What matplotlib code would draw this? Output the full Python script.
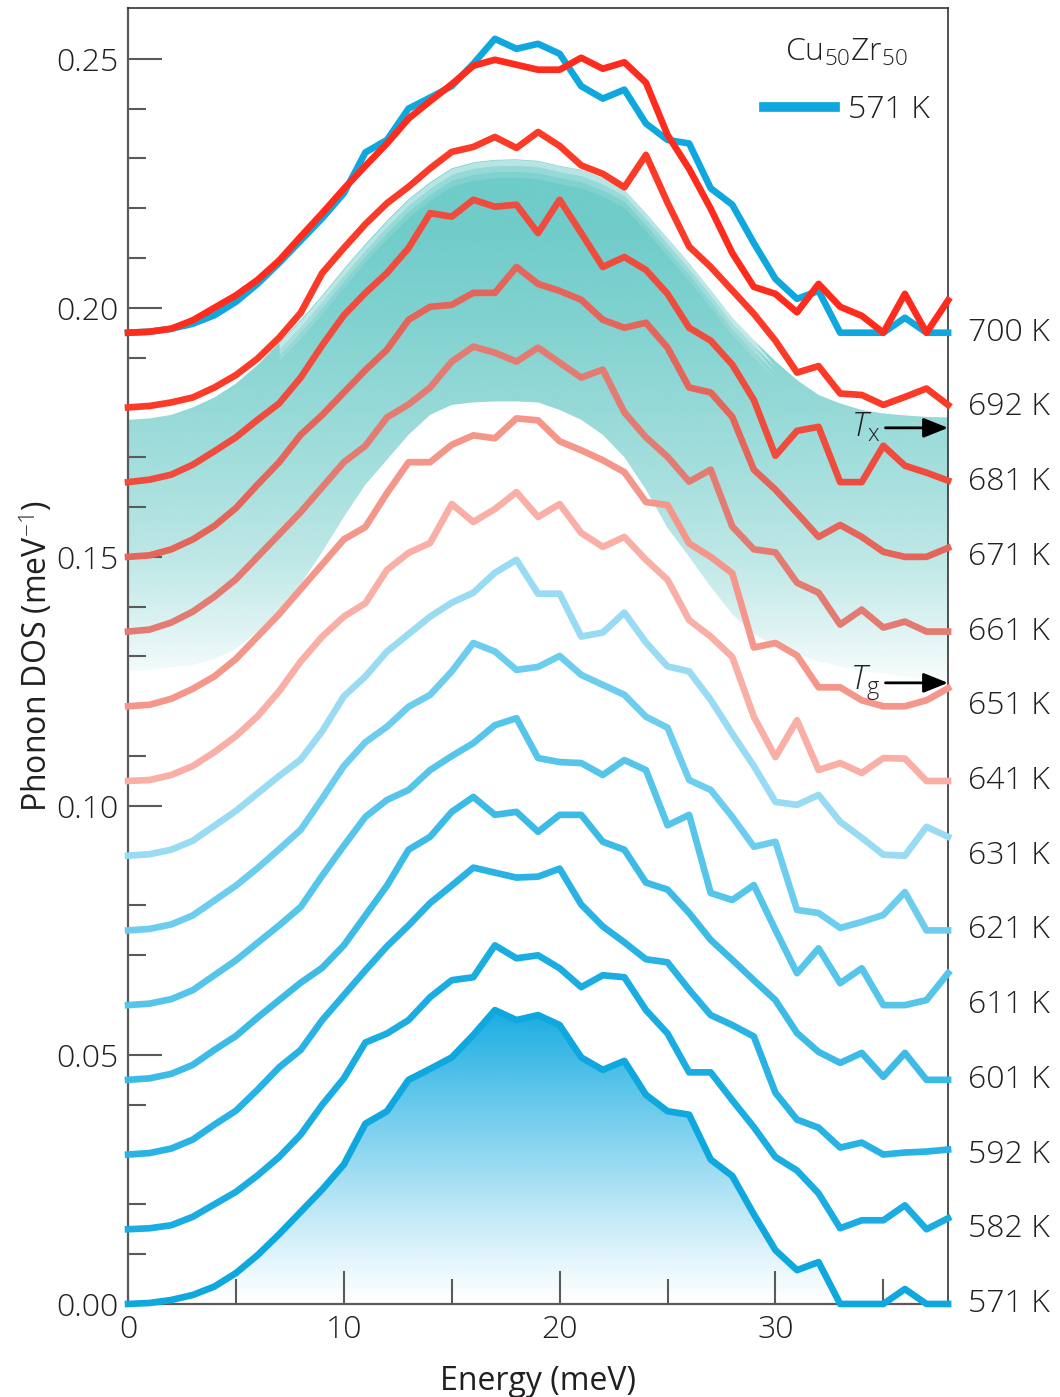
import numpy as np
import matplotlib.pyplot as plt
from matplotlib.lines import Line2D
from matplotlib.colors import to_rgb
import matplotlib.transforms as mtransforms

plt.rcParams['font.family'] = ['Open Sans', 'DejaVu Sans']
plt.rcParams['font.weight'] = 'light'
plt.rcParams['mathtext.fontset'] = 'custom'
plt.rcParams['mathtext.rm'] = 'Open Sans'
plt.rcParams['mathtext.it'] = 'Open Sans:italic'

# energy grid (meV)
energy = list(range(0, 39))

# phonon DOS, one list per temperature (meV^-1)
dos_571 = [0.0, 0.0002, 0.0008, 0.0018, 0.0035, 0.0062, 0.0098, 0.0140, 0.0185, 0.0230, 0.0280, 0.0362, 0.0387, 0.0450, 0.0472, 0.0495, 0.0540, 0.0590, 0.0570, 0.0580, 0.0560, 0.0495, 0.0470, 0.0488, 0.0420, 0.0387, 0.0380, 0.0290, 0.0257, 0.0180, 0.0108, 0.0068, 0.0084, 0.0, 0.0, 0.0, 0.0030, 0.0, 0.0]
dos_582 = [0.0, 0.0002, 0.0008, 0.0025, 0.0050, 0.0075, 0.0108, 0.0145, 0.0190, 0.0250, 0.0303, 0.0375, 0.0393, 0.0420, 0.0466, 0.0500, 0.0506, 0.0570, 0.0544, 0.0550, 0.0524, 0.0486, 0.0510, 0.0506, 0.0440, 0.0393, 0.0315, 0.0315, 0.0259, 0.0205, 0.0145, 0.0118, 0.0072, 0.0002, 0.0018, 0.0018, 0.0048, 0.0, 0.0022]
dos_592 = [0.0, 0.0003, 0.0012, 0.0030, 0.0060, 0.0088, 0.0130, 0.0175, 0.0210, 0.0270, 0.0320, 0.0370, 0.0418, 0.0460, 0.0505, 0.0540, 0.0576, 0.0566, 0.0556, 0.0558, 0.0574, 0.0502, 0.0458, 0.0426, 0.0392, 0.0386, 0.0331, 0.0280, 0.0260, 0.0237, 0.0124, 0.0070, 0.0054, 0.0014, 0.0024, 0.0, 0.0004, 0.0006, 0.0010]
dos_601 = [0.0, 0.0003, 0.0012, 0.0030, 0.0060, 0.0088, 0.0125, 0.0160, 0.0195, 0.0225, 0.0270, 0.0330, 0.0390, 0.0462, 0.0488, 0.0538, 0.0568, 0.0532, 0.0538, 0.0498, 0.0532, 0.0532, 0.0478, 0.0462, 0.0396, 0.0382, 0.0335, 0.0281, 0.0241, 0.0200, 0.0160, 0.0094, 0.0056, 0.0034, 0.0054, 0.0006, 0.0054, 0.0, 0.0]
dos_611 = [0.0, 0.0003, 0.0012, 0.0030, 0.0060, 0.0090, 0.0125, 0.0160, 0.0197, 0.0260, 0.0320, 0.0378, 0.0412, 0.0432, 0.0472, 0.0500, 0.0526, 0.0562, 0.0576, 0.0496, 0.0488, 0.0486, 0.0462, 0.0492, 0.0472, 0.0361, 0.0382, 0.0225, 0.0211, 0.0241, 0.0151, 0.0064, 0.0114, 0.0044, 0.0074, 0.0, 0.0, 0.0010, 0.0064]
dos_621 = [0.0, 0.0003, 0.0012, 0.0030, 0.0060, 0.0090, 0.0125, 0.0163, 0.0202, 0.0265, 0.0330, 0.0378, 0.0409, 0.0449, 0.0473, 0.0520, 0.0577, 0.0560, 0.0523, 0.0529, 0.0551, 0.0513, 0.0493, 0.0473, 0.0429, 0.0407, 0.0302, 0.0282, 0.0228, 0.0168, 0.0178, 0.0041, 0.0035, 0.0005, 0.0017, 0.0031, 0.0077, 0.0, 0.0]
dos_631 = [0.0, 0.0003, 0.0012, 0.0030, 0.0060, 0.0090, 0.0125, 0.0160, 0.0193, 0.0250, 0.0320, 0.0360, 0.0410, 0.0445, 0.0480, 0.0508, 0.0528, 0.0568, 0.0594, 0.0526, 0.0526, 0.0440, 0.0448, 0.0488, 0.0428, 0.0380, 0.0370, 0.0313, 0.0245, 0.0180, 0.0108, 0.0102, 0.0122, 0.0068, 0.0036, 0.0002, 0.0, 0.0058, 0.0038]
dos_641 = [0.0, 0.0002, 0.0012, 0.0030, 0.0058, 0.0090, 0.0130, 0.0180, 0.0240, 0.0290, 0.0330, 0.0357, 0.0424, 0.0458, 0.0478, 0.0556, 0.0520, 0.0546, 0.0580, 0.0530, 0.0556, 0.0498, 0.0470, 0.0490, 0.0444, 0.0404, 0.0323, 0.0290, 0.0249, 0.0129, 0.0048, 0.0122, 0.0022, 0.0036, 0.0016, 0.0046, 0.0045, 0.0, 0.0]
dos_651 = [0.0, 0.0003, 0.0015, 0.0035, 0.0060, 0.0095, 0.0140, 0.0185, 0.0235, 0.0285, 0.0335, 0.0360, 0.0428, 0.0490, 0.0490, 0.0525, 0.0544, 0.0538, 0.0578, 0.0574, 0.0532, 0.0514, 0.0494, 0.0470, 0.0410, 0.0404, 0.0327, 0.0300, 0.0267, 0.0118, 0.0127, 0.0102, 0.0038, 0.0038, 0.0012, 0.0, 0.0, 0.0012, 0.0036]
dos_661 = [0.0, 0.0004, 0.0018, 0.0040, 0.0070, 0.0105, 0.0150, 0.0195, 0.0240, 0.0290, 0.0340, 0.0373, 0.0430, 0.0456, 0.0490, 0.0542, 0.0572, 0.0560, 0.0542, 0.0570, 0.0540, 0.0510, 0.0526, 0.0440, 0.0390, 0.0351, 0.0301, 0.0325, 0.0211, 0.0165, 0.0159, 0.0098, 0.0078, 0.0014, 0.0044, 0.0008, 0.0020, 0.0, 0.0]
dos_671 = [0.0, 0.0003, 0.0015, 0.0035, 0.0062, 0.0098, 0.0145, 0.0190, 0.0245, 0.0285, 0.0330, 0.0375, 0.0416, 0.0476, 0.0502, 0.0506, 0.0530, 0.0530, 0.0582, 0.0548, 0.0534, 0.0516, 0.0476, 0.0460, 0.0470, 0.0420, 0.0340, 0.0330, 0.0281, 0.0175, 0.0135, 0.0088, 0.0040, 0.0064, 0.0040, 0.0010, 0.0, 0.0, 0.0018]
dos_681 = [0.0, 0.0005, 0.0015, 0.0035, 0.0062, 0.0090, 0.0125, 0.0158, 0.0210, 0.0275, 0.0335, 0.0380, 0.0420, 0.0470, 0.0540, 0.0533, 0.0567, 0.0553, 0.0557, 0.0500, 0.0567, 0.0500, 0.0432, 0.0452, 0.0426, 0.0378, 0.0310, 0.0284, 0.0236, 0.0165, 0.0053, 0.0103, 0.0111, 0.0, 0.0, 0.0073, 0.0033, 0.0019, 0.0003]
dos_692 = [0.0, 0.0003, 0.0010, 0.0020, 0.0040, 0.0065, 0.0098, 0.0140, 0.0190, 0.0270, 0.0320, 0.0368, 0.0410, 0.0443, 0.0480, 0.0513, 0.0523, 0.0543, 0.0521, 0.0553, 0.0525, 0.0486, 0.0469, 0.0442, 0.0507, 0.0411, 0.0323, 0.0282, 0.0235, 0.0188, 0.0134, 0.0070, 0.0083, 0.0028, 0.0025, 0.0005, 0.0021, 0.0038, 0.0005]
dos_700 = [0.0, 0.0002, 0.0008, 0.0025, 0.0050, 0.0075, 0.0106, 0.0145, 0.0193, 0.0240, 0.0289, 0.0335, 0.0380, 0.0430, 0.0465, 0.0499, 0.0536, 0.0548, 0.0538, 0.0528, 0.0528, 0.0552, 0.0530, 0.0543, 0.0502, 0.0397, 0.0329, 0.0249, 0.0160, 0.0092, 0.0078, 0.0041, 0.0098, 0.0052, 0.0034, 0.0, 0.0078, 0.0, 0.0065]

temps = [571, 582, 592, 601, 611, 621, 631, 641, 651, 661, 671, 681, 692, 700]
curves = [dos_571, dos_582, dos_592, dos_601, dos_611, dos_621, dos_631,
          dos_641, dos_651, dos_661, dos_671, dos_681, dos_692, dos_700]
offset_step = 0.015
colors = ['#0ea8de', '#1aade1', '#28b3e4', '#3dbbe7', '#55c5ea', '#6dcdee', '#98dbf3',
          '#f9aea6', '#f5968b', '#e47b72', '#e5655b', '#ef4c3e', '#fc3a28', '#ff2b1c']

# shaded teal region between Tg and Tx (upper / lower edges)
band_upper = [0.1775, 0.1778, 0.1785, 0.1800, 0.1820, 0.1848, 0.1885, 0.1930, 0.1975, 0.2025,
              0.2078, 0.2128, 0.2175, 0.2218, 0.2252, 0.2280, 0.2292, 0.2297, 0.2298, 0.2295,
              0.2285, 0.2277, 0.2260, 0.2237, 0.2190, 0.2140, 0.2090, 0.2036, 0.1980, 0.1935,
              0.1893, 0.1855, 0.1825, 0.1808, 0.1795, 0.1788, 0.1784, 0.1781, 0.1780]
band_lower = [0.1270, 0.1272, 0.1278, 0.1283, 0.1295, 0.1315, 0.1350, 0.1390, 0.1445, 0.1510,
              0.1580, 0.1645, 0.1695, 0.1745, 0.1785, 0.1805, 0.1810, 0.1812, 0.1812, 0.1810,
              0.1795, 0.1775, 0.1745, 0.1700, 0.1635, 0.1558, 0.1500, 0.1440, 0.1385, 0.1345,
              0.1320, 0.1305, 0.1290, 0.1280, 0.1270, 0.1265, 0.1260, 0.1255, 0.1250]
band_alpha_y = [0.122, 0.135, 0.150, 0.165, 0.180, 0.200, 0.215, 0.235]
band_alpha = [0.0, 0.22, 0.45, 0.60, 0.72, 0.88, 0.97, 1.0]

teal = '#6ccbc8'
fill_blue = '#14abe1'
text_c = '#231f20'

fig = plt.figure(figsize=(10.6, 13.97), dpi=100)
ax = fig.add_axes([0.1208, 0.0666, 0.7736, 0.9277])

# teal gradient band
yg = np.linspace(0.115, 0.235, 300)
rgba = np.zeros((300, 1, 4))
rgba[:, 0, :3] = to_rgb(teal)
rgba[:, 0, 3] = np.interp(yg, band_alpha_y, band_alpha)
im = ax.imshow(rgba, extent=[0, 38, 0.115, 0.235], origin='lower', aspect='auto',
               interpolation='bilinear', zorder=1)
band = ax.fill_between(energy, band_lower, band_upper, facecolor='none', edgecolor='none')
im.set_clip_path(band.get_paths()[0], transform=ax.transData)
# soft top edge only around the hump
upper = np.array(band_upper)
hump = upper > 0.192
for k, a in enumerate([0.5, 0.28, 0.12]):
    ax.fill_between(energy, upper - (k + 1) * 0.0012, upper - k * 0.0012, where=hump,
                    interpolate=True, color='white', alpha=a, lw=0, zorder=1.1)

# blue gradient under the lowest curve
yb = np.linspace(0, 0.06, 200)
rgba_b = np.zeros((200, 1, 4))
rgba_b[:, 0, :3] = to_rgb(fill_blue)
rgba_b[:, 0, 3] = (yb / 0.06) ** 1.1
imb = ax.imshow(rgba_b, extent=[0, 38, 0, 0.06], origin='lower', aspect='auto',
                interpolation='bilinear', zorder=1)
under = ax.fill_between(energy, 0, dos_571, facecolor='none', edgecolor='none')
imb.set_clip_path(under.get_paths()[0], transform=ax.transData)

lw = 4.8
# stacked curves
for i, (T, d, c) in enumerate(zip(temps, curves, colors)):
    off = i * offset_step
    if T == 700:
        # 571 K repeated on top of 700 K for comparison
        ax.plot(energy, np.array(dos_571) + off, color=colors[0], lw=lw,
                solid_joinstyle='round', clip_on=False, zorder=3)
    ax.plot(energy, np.array(d) + off, color=c, lw=lw, solid_joinstyle='round',
            clip_on=False, zorder=3)

# temperature labels on the right
trans = mtransforms.blended_transform_factory(ax.transAxes, ax.transData)
for i, T in enumerate(temps):
    ax.text(1.0244, i * offset_step, f'{T} K', transform=trans, ha='left', va='center',
            fontsize=23, color=text_c)

# Tx / Tg arrows
arrows = [(0.1759, r'$T_{\rm x}$'), (0.1247, r'$T_{\rm g}$')]
for y, lab in arrows:
    ax.annotate('', xy=(38, y), xytext=(35.1, y), annotation_clip=False,
                arrowprops=dict(arrowstyle='-|>,head_length=0.75,head_width=0.3',
                                mutation_scale=20, lw=2, color='black',
                                shrinkA=0, shrinkB=0), zorder=5)
    ax.text(34.85, y, lab, ha='right', va='center', fontsize=24, color=text_c, zorder=5)

ax.set_xlim(0, 38)
ax.set_ylim(0, 0.2602)

ax.set_xticks([0, 10, 20, 30])
ax.set_xticks([5, 15, 25, 35], minor=True)
ax.set_yticks([0.0, 0.05, 0.10, 0.15, 0.20, 0.25])
ax.set_yticklabels(['0.00', '0.05', '0.10', '0.15', '0.20', '0.25'])
ax.set_yticks(np.arange(0.0, 0.26, 0.01), minor=True)
ax.tick_params(which='both', direction='in', color='#5a5a5a', width=1.5,
               labelsize=23, labelcolor=text_c, pad=7)
ax.tick_params(axis='x', which='major', length=24)
ax.tick_params(axis='x', which='minor', length=18)
ax.tick_params(axis='y', which='major', length=24.5)
ax.tick_params(axis='y', which='minor', length=13)

for s in ['left', 'bottom']:
    ax.spines[s].set_color('#5a5a5a')
    ax.spines[s].set_linewidth(1.6)
for s in ['top', 'right']:
    ax.spines[s].set_color('#333333')
    ax.spines[s].set_linewidth(1.2)

ax.set_xlabel('Energy (meV)', fontsize=23, color=text_c)
ax.set_ylabel('Phonon DOS (meV$^{-1}$)', fontsize=23, color=text_c)
ax.xaxis.set_label_coords(0.5, -0.047)
ax.yaxis.set_label_coords(-0.089, 0.5)

handle = Line2D([], [], color=colors[0], lw=7)
leg = ax.legend([handle], ['571 K'], title='Cu$_{50}$Zr$_{50}$', title_fontsize=23,
                fontsize=23, frameon=False, handlelength=2.25, handletextpad=0.4,
                labelspacing=0.8, borderpad=0, borderaxespad=0, loc='upper right',
                bbox_to_anchor=(0.978, 0.978), labelcolor=text_c)
leg.get_title().set_color(text_c)

fig.savefig('out.png', dpi=100)
